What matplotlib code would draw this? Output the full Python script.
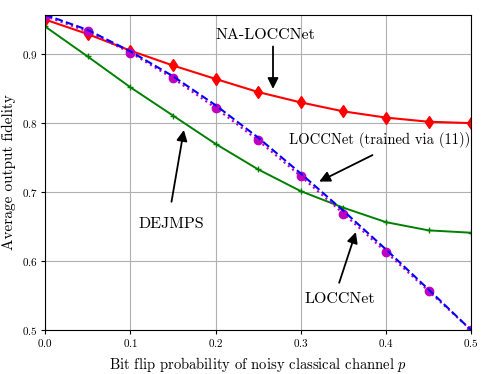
#!/usr/bin/env python3

import matplotlib
matplotlib.use("Agg")
import matplotlib.pyplot as plt
import numpy as np

plt.rcParams['font.family'] = 'serif'
plt.rcParams['font.serif'] = ['cmr10', 'DejaVu Serif']
plt.rcParams['mathtext.fontset'] = 'cm'
plt.rcParams['axes.formatter.use_mathtext'] = True

p = [0.0, 0.05, 0.1, 0.15, 0.2, 0.25, 0.3, 0.35, 0.4, 0.45, 0.5]

na_loccnet = [0.950, 0.929, 0.905, 0.8835, 0.864, 0.845, 0.830, 0.817, 0.808, 0.802, 0.800]
dejmps = [0.940, 0.8965, 0.852, 0.811, 0.770, 0.733, 0.7015, 0.6775, 0.6566, 0.6447, 0.6413]
loccnet = [0.957, 0.935, 0.904, 0.868, 0.826, 0.779, 0.727, 0.673, 0.617, 0.559, 0.500]
loccnet_11 = [0.955, 0.9327, 0.902, 0.865, 0.822, 0.775, 0.723, 0.669, 0.6133, 0.5566, 0.500]

fig = plt.figure(figsize=(4.93, 3.74), dpi=100)
ax = fig.add_axes([0.0913, 0.1168, 0.8647, 0.8439])

ax.plot(p, na_loccnet, color='red', marker='d', markersize=6.5, lw=1.5)
ax.plot(p, dejmps, color='green', marker='+', markersize=5, lw=1.4)
ax.plot(p, loccnet_11, color='m', marker='o', markersize=6, lw=1.5, linestyle=':')
ax.plot(p, loccnet, color='blue', lw=1.5, linestyle='--')

ax.set_xlim(0, 0.5)
ax.set_ylim(0.5, 0.957)
ax.set_xticks([0.0, 0.1, 0.2, 0.3, 0.4, 0.5])
ax.set_yticks([0.5, 0.6, 0.7, 0.8, 0.9])
ax.tick_params(labelsize=8, length=3, pad=2)
ax.grid(True, color='#b0b0b0', lw=0.8)

ax.set_xlabel('Bit flip probability of noisy classical channel $p$', fontsize=10.5, labelpad=4)
ax.set_ylabel('Average output fidelity', fontsize=11, labelpad=4)

arrow = dict(arrowstyle='-|>', color='black', lw=1.3, mutation_scale=16)
ax.text(0.259, 0.928, 'NA-LOCCNet', fontsize=11.5, ha='center', va='center')
ax.annotate('', xy=(0.2674, 0.8455), xytext=(0.2674, 0.915), arrowprops=arrow)
ax.text(0.393, 0.775, 'LOCCNet (trained via (11))', fontsize=10.5, ha='center', va='center')
ax.annotate('', xy=(0.3187, 0.7136), xytext=(0.387, 0.7555), arrowprops=arrow)
ax.text(0.1486, 0.6544, 'DEJMPS', fontsize=11.5, ha='center', va='center')
ax.annotate('', xy=(0.1634, 0.794), xytext=(0.1478, 0.6822), arrowprops=arrow)
ax.text(0.346, 0.545, 'LOCCNet', fontsize=11.5, ha='center', va='center')
ax.annotate('', xy=(0.3656, 0.646), xytext=(0.344, 0.565), arrowprops=arrow)

fig.savefig('out.png', dpi=100)
